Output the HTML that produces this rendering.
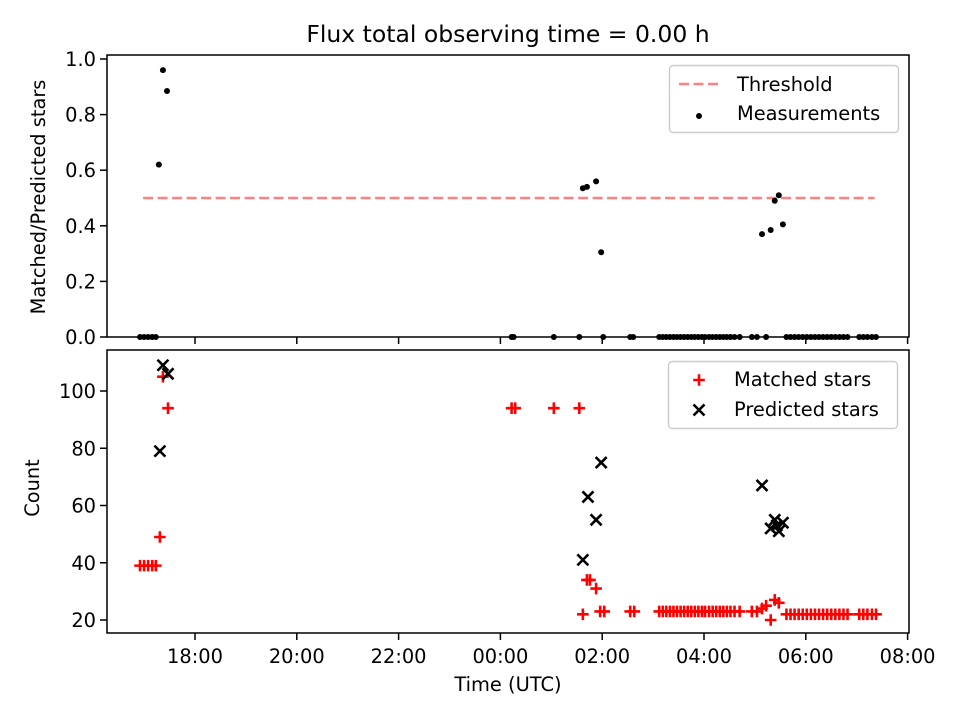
<!DOCTYPE html>
<html><head><meta charset="utf-8"><style>
html,body{margin:0;padding:0;background:#fff}
svg{display:block;font-family:"DejaVu Sans","Liberation Sans",sans-serif}
</style></head><body>
<svg id="c" width="960" height="720" viewBox="0 0 960 720" xmlns="http://www.w3.org/2000/svg">
<rect width="960" height="720" fill="#fff"/>
<text x="508" y="42" font-size="23.5" text-anchor="middle">Flux total observing time = 0.00 h</text>
</svg>
<script>
// Data (times in hours; values past midnight are > 24)
const ratioTimes = [16.92,17.00,17.08,17.16,17.23,17.29,17.37,17.45,24.22,24.26,25.05,25.55,25.62,25.70,25.88,25.98,26.02,26.55,26.61,27.12,27.19,27.26,27.33,27.40,27.47,27.54,27.61,27.68,27.75,27.82,27.89,27.96,28.02,28.10,28.17,28.24,28.31,28.38,28.45,28.52,28.60,28.70,28.94,29.04,29.14,29.22,29.31,29.39,29.47,29.55,29.62,29.70,29.78,29.86,29.94,30.02,30.10,30.18,30.26,30.34,30.42,30.50,30.58,30.66,30.74,30.82,31.05,31.13,31.21,31.30,31.38];
const ratioValues = [0,0,0,0,0,0.62,0.96,0.885,0,0,0,0,0.535,0.54,0.56,0.305,0,0,0,0,0,0,0,0,0,0,0,0,0,0,0,0,0,0,0,0,0,0,0,0,0,0,0,0,0.37,0,0.385,0.49,0.51,0.405,0,0,0,0,0,0,0,0,0,0,0,0,0,0,0,0,0,0,0,0,0];
const matchedTimes = [16.92,17.00,17.08,17.16,17.23,17.31,17.37,17.47,24.22,24.29,25.05,25.55,25.62,25.70,25.76,25.88,25.96,26.04,26.55,26.63,27.12,27.19,27.26,27.33,27.40,27.47,27.54,27.61,27.68,27.75,27.82,27.89,27.96,28.02,28.10,28.17,28.24,28.31,28.38,28.45,28.52,28.60,28.70,28.94,29.04,29.14,29.22,29.31,29.39,29.47,29.62,29.70,29.78,29.86,29.94,30.02,30.10,30.18,30.26,30.34,30.42,30.50,30.58,30.66,30.74,30.82,31.05,31.13,31.21,31.30,31.38];
const matchedValues = [39,39,39,39,39,49,105,94,94,94,94,94,22,34,34,31,23,23,23,23,23,23,23,23,23,23,23,23,23,23,23,23,23,23,23,23,23,23,23,23,23,23,23,23,23,24,25,20,27,26,22,22,22,22,22,22,22,22,22,22,22,22,22,22,22,22,22,22,22,22,22];
const predictedTimes = [17.31,17.37,17.47,25.62,25.72,25.88,25.98,29.14,29.31,29.39,29.43,29.47,29.55];
const predictedValues = [79,109,106,41,63,55,75,67,52,55,53,51,54];
const threshold = 0.5, thresholdStart = 16.98, thresholdEnd = 31.35;
const xTickValues = [18,20,22,24,26,28,30,32];
const xTickLabels = ["18:00","20:00","22:00","00:00","02:00","04:00","06:00","08:00"];
const topTicks = [0,0.2,0.4,0.6,0.8,1.0];
const topTickLabels = ["0.0","0.2","0.4","0.6","0.8","1.0"];
const botTicks = [20,40,60,80,100];

const svg = document.getElementById('c');
const NS = 'http://www.w3.org/2000/svg';
function el(tag, attrs, parent){const e=document.createElementNS(NS,tag);for(const k in attrs)e.setAttribute(k,attrs[k]);(parent||svg).appendChild(e);return e;}
const L=107,R=909,T1=55,B1=337,T2=350,B2=633;
const FS=19.4, TL=7, SW=1.5;
const xs = t => 195 + (t-18)*50.9;
const y1 = v => 337 - v*278;
const y2 = c => 620 - (c-20)*2.8625;

// Top axis
const g1 = el('g',{});


const thr = el('line',{x1:xs(thresholdStart),x2:xs(thresholdEnd),y1:y1(threshold),y2:y1(threshold),stroke:'#ff8080','stroke-width':2.6,'stroke-dasharray':'10 4.5'},g1);


ratioTimes.forEach((t,i)=>{
  const c = el('circle',{cx:xs(t),cy:y1(ratioValues[i]),r:3,fill:'#000'},g1);
  
  
});
const f1 = el('rect',{x:L,y:T1,width:R-L,height:B1-T1,fill:'none',stroke:'#000','stroke-width':SW},g1);


topTicks.forEach((v,i)=>{
  el('line',{x1:L-TL,x2:L,y1:y1(v),y2:y1(v),stroke:'#000','stroke-width':SW},g1);
  const tx = el('text',{x:L-11,y:y1(v)+7,'font-size':FS,'text-anchor':'end'},g1);
  tx.textContent = topTickLabels[i];
  
  
});
xTickValues.forEach(t=>{ el('line',{x1:xs(t),x2:xs(t),y1:B1,y2:B1+TL,stroke:'#000','stroke-width':SW},g1); });
const yl1 = el('text',{x:0,y:0,'font-size':FS,'text-anchor':'middle',transform:'translate(45,197) rotate(-90)'},g1);
yl1.textContent='Matched/Predicted stars';



// Top legend
const lg1 = el('g',{},g1);


el('rect',{x:669.5,y:65.5,width:229,height:67,rx:4,fill:'#fff','fill-opacity':0.8,stroke:'#ccc','stroke-width':1.4},lg1);
el('line',{x1:679,x2:721,y1:84,y2:84,stroke:'#ff8080','stroke-width':2.6,'stroke-dasharray':'10 4.5'},lg1);
let t = el('text',{x:737,y:91,'font-size':FS},lg1); t.textContent='Threshold';


el('circle',{cx:699,cy:116,r:3,fill:'#000'},lg1);
t = el('text',{x:737,y:120,'font-size':FS},lg1); t.textContent='Measurements';



// Bottom axis
const g2 = el('g',{});


function plus(x,y,p){const s=5.8;el('path',{d:`M${x-s} ${y}H${x+s}M${x} ${y-s}V${y+s}`,stroke:'#f00','stroke-width':2.6,fill:'none'},p);}
function cross(x,y,p){const s=5.5;el('path',{d:`M${x-s} ${y-s}L${x+s} ${y+s}M${x-s} ${y+s}L${x+s} ${y-s}`,stroke:'#000','stroke-width':2.6,fill:'none'},p);}
matchedTimes.forEach((tt,i)=>{
  const gg = el('g',{},g2);
  
  
  plus(xs(tt),y2(matchedValues[i]),gg);
});
predictedTimes.forEach((tt,i)=>{
  const gg = el('g',{},g2);
  
  
  cross(xs(tt),y2(predictedValues[i]),gg);
});
const f2 = el('rect',{x:L,y:T2,width:R-L,height:B2-T2,fill:'none',stroke:'#000','stroke-width':SW},g2);


botTicks.forEach(v=>{
  el('line',{x1:L-TL,x2:L,y1:y2(v),y2:y2(v),stroke:'#000','stroke-width':SW},g2);
  const tx = el('text',{x:L-11,y:y2(v)+7,'font-size':FS,'text-anchor':'end'},g2);
  tx.textContent = String(v);
  
  
});
xTickValues.forEach((tv,i)=>{
  el('line',{x1:xs(tv),x2:xs(tv),y1:B2,y2:B2+TL,stroke:'#000','stroke-width':SW},g2);
  const tx = el('text',{x:xs(tv),y:B2+30,'font-size':FS,'text-anchor':'middle'},g2);
  tx.textContent = xTickLabels[i];
  
  
});
const yl2 = el('text',{x:0,y:0,'font-size':FS,'text-anchor':'middle',transform:'translate(39,488) rotate(-90)'},g2);
yl2.textContent='Count';


const xl = el('text',{x:508,y:691,'font-size':FS,'text-anchor':'middle'},g2);
xl.textContent='Time (UTC)';



// Bottom legend
const lg2 = el('g',{},g2);


el('rect',{x:668.5,y:361.5,width:229,height:67,rx:4,fill:'#fff','fill-opacity':0.8,stroke:'#ccc','stroke-width':1.4},lg2);
plus(699,380,lg2);
t = el('text',{x:734,y:386,'font-size':FS},lg2); t.textContent='Matched stars';


cross(699,410,lg2);
t = el('text',{x:734,y:416,'font-size':FS},lg2); t.textContent='Predicted stars';


</script>
</body></html>
